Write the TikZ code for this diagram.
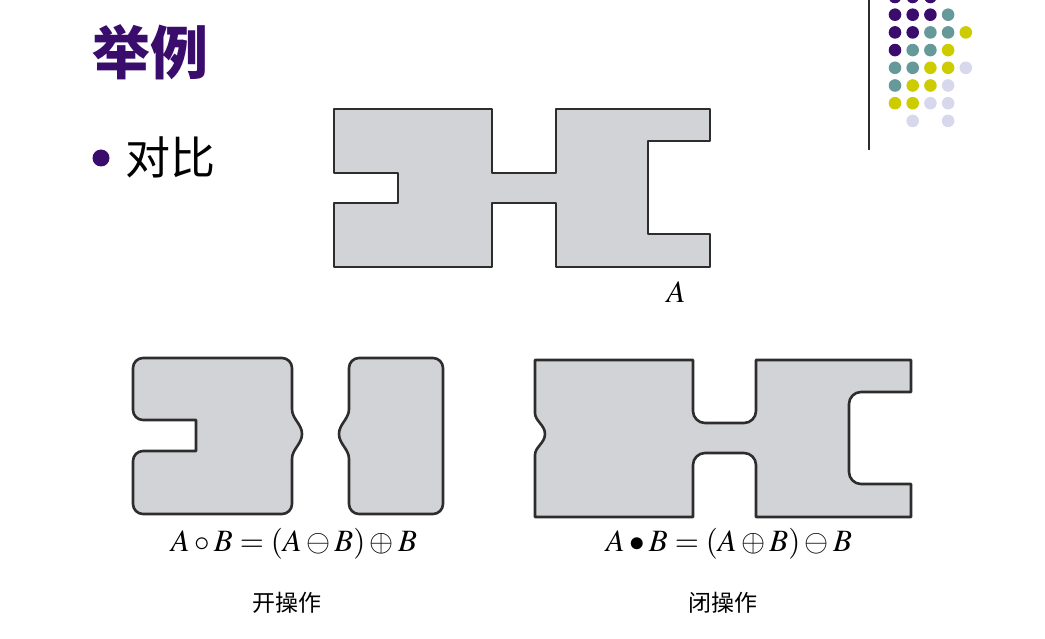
\documentclass[tikz,border=0pt]{standalone}
\usepackage{mathptmx}
\usepackage{fontspec}
\newfontfamily\cjk{Noto Sans CJK SC}
\usepackage{tikz}

\definecolor{titlepurple}{RGB}{58,12,108}
\definecolor{dotteal}{RGB}{102,153,153}
\definecolor{dotyellow}{RGB}{204,204,0}
\definecolor{dotlav}{RGB}{216,216,236}
\definecolor{shapefill}{RGB}{209,211,214}
\definecolor{shapeline}{RGB}{45,45,45}

\begin{document}
\begin{tikzpicture}[
  x=1pt, y=-1pt,
  blob/.style={fill=shapefill, draw=shapeline, line width=2.6pt, line join=round},
  formula/.style={font=\fontsize{31}{33}\selectfont, inner sep=0pt},
  caption/.style={font=\cjk\fontsize{23}{25}\selectfont, inner sep=0pt}
]
  \useasboundingbox (0,0) rectangle (1045,639);

  % heading and bullet
  \node[font=\cjk\bfseries\fontsize{58}{60}\selectfont, text=titlepurple,
        inner sep=0pt] (title) at (150,52) {举例};
  \fill[titlepurple] (101,158) circle (8.5);
  \node[font=\cjk\fontsize{45}{47}\selectfont, inner sep=0pt] (item) at (170,157) {对比};

  % corner dots
  \foreach \c/\i/\j in {titlepurple/1/0, titlepurple/2/0, titlepurple/3/0,
      titlepurple/1/1, titlepurple/2/1, titlepurple/3/1, dotteal/4/1,
      titlepurple/1/2, titlepurple/2/2, dotteal/3/2, dotteal/4/2, dotyellow/5/2,
      titlepurple/1/3, dotteal/2/3, dotteal/3/3, dotyellow/4/3,
      dotteal/1/4, dotteal/2/4, dotyellow/3/4, dotyellow/4/4, dotlav/5/4,
      dotteal/1/5, dotyellow/2/5, dotyellow/3/5, dotlav/4/5,
      dotyellow/1/6, dotyellow/2/6, dotlav/3/6, dotlav/4/6,
      dotlav/2/7, dotlav/4/7}
    \fill[\c] ({895+17.7*(\i-1)},{-3+17.7*\j}) circle (6.3);
  \draw[shapeline, line width=2pt] (869,0) -- (869,150);

  % set A
  \draw[blob] (334,109) -- (492,109) -- (492,173) -- (556,173) -- (556,109)
    -- (710,109) -- (710,141) -- (648,141) -- (648,234) -- (710,234)
    -- (710,267) -- (556,267) -- (556,203) -- (492,203) -- (492,267)
    -- (334,267) -- (334,203) -- (398,203) -- (398,173) -- (334,173) -- cycle;
  \node[formula] (labelA) at (676,292) {$A$};

  % opening, left part
  \draw[blob] (196,420) -- (143,420) .. controls (137.5,420) and (133,415.5) .. (133,410)
    -- (133,368) .. controls (133,362.5) and (137.5,358) .. (143,358)
    -- (282,358) .. controls (287.5,358) and (292,362.5) .. (292,368)
    -- (292,409) .. controls (292,419) and (302,424) .. (302,434)
    .. controls (302,444) and (292,449) .. (292,459)
    -- (292,504) .. controls (292,509.5) and (287.5,514) .. (282,514)
    -- (143,514) .. controls (137.5,514) and (133,509.5) .. (133,504)
    -- (133,461) .. controls (133,455.5) and (137.5,451) .. (143,451)
    -- (196,451) -- cycle;
  % opening, right part
  \draw[blob] (359,358) -- (433,358) .. controls (438.5,358) and (443,362.5) .. (443,368)
    -- (443,504) .. controls (443,509.5) and (438.5,514) .. (433,514)
    -- (359,514) .. controls (353.5,514) and (349,509.5) .. (349,504)
    -- (349,459) .. controls (349,449) and (339,444) .. (339,434)
    .. controls (339,424) and (349,419) .. (349,409)
    -- (349,368) .. controls (349,362.5) and (353.5,358) .. (359,358) -- cycle;

  % closing
  \draw[blob] (535,360) -- (693,360)
    -- (693,411) .. controls (693,417.6) and (698.4,423) .. (705,423)
    -- (744,423) .. controls (750.6,423) and (756,417.6) .. (756,411)
    -- (756,360) -- (911,360) -- (911,392)
    -- (861,392) .. controls (854.4,392) and (849,397.4) .. (849,404)
    -- (849,472) .. controls (849,478.6) and (854.4,484) .. (861,484)
    -- (911,484) -- (911,517) -- (756,517)
    -- (756,465) .. controls (756,458.4) and (750.6,453) .. (744,453)
    -- (705,453) .. controls (698.4,453) and (693,458.4) .. (693,465)
    -- (693,517) -- (535,517) -- (535,455)
    .. controls (535,447) and (545,443) .. (545,434)
    .. controls (545,425) and (535,421) .. (535,413) -- cycle;

  % formulas and captions
  \node[formula] (openeq) at (294,544) {$A\circ B=(A\ominus B)\oplus B$};
  \node[formula] (closeeq) at (729,544) {$A\bullet B=(A\oplus B)\ominus B$};
  \node[caption] (opencap) at (287,603) {开操作};
  \node[caption] (closecap) at (723,603) {闭操作};
\end{tikzpicture}
\end{document}
